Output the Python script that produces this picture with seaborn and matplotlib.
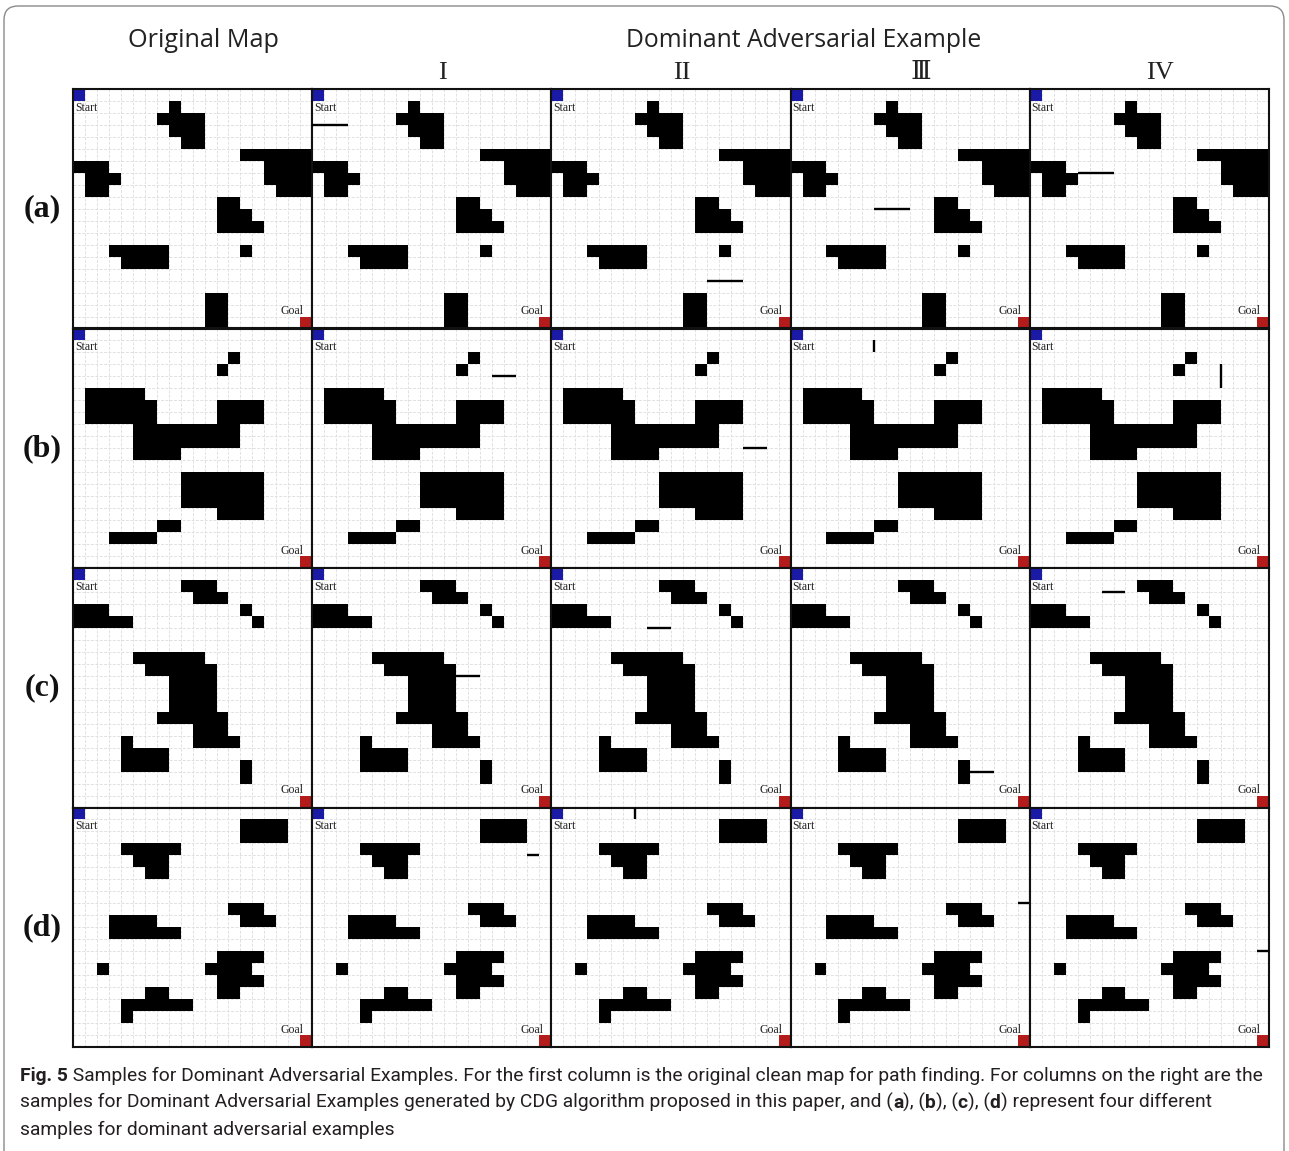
import numpy as np
import pandas as pd
import seaborn as sns
import matplotlib
matplotlib.use('Agg')
import matplotlib.pyplot as plt
from matplotlib.colors import ListedColormap
from matplotlib.patches import FancyBboxPatch
from matplotlib.transforms import IdentityTransform
from matplotlib import font_manager

sns.set_theme(style='white')
plt.rcParams['font.family'] = ['DejaVu Sans']

W, H = 1289, 1151
N = 20

# ---------------- data ----------------
main_titles = ['Original Map', 'Dominant Adversarial Example']
col_titles = ['I', 'II', 'Ⅲ', 'IV']
row_labels = ['(a)', '(b)', '(c)', '(d)']

# obstacle spans: (row, first col, last col)
map_a = [(1, 8, 8), (2, 7, 10), (3, 8, 10), (4, 9, 10), (5, 14, 19), (6, 0, 2), (6, 16, 19),
         (7, 1, 3), (7, 16, 19), (8, 1, 2), (8, 17, 19), (9, 12, 13), (10, 12, 14), (11, 12, 15),
         (13, 3, 7), (13, 14, 14), (14, 4, 7), (17, 11, 12), (18, 11, 12), (19, 11, 12)]
map_b = [(2, 13, 13), (3, 12, 12), (5, 1, 5), (6, 1, 6), (6, 12, 15), (7, 1, 6), (7, 12, 15),
         (8, 5, 13), (9, 5, 13), (10, 5, 8), (12, 9, 15), (13, 9, 15), (14, 9, 15), (15, 12, 15),
         (16, 7, 8), (17, 3, 6)]
map_c = [(1, 9, 11), (2, 10, 12), (3, 0, 2), (3, 14, 14), (4, 0, 4), (4, 15, 15), (7, 5, 10),
         (8, 6, 11), (9, 8, 11), (10, 8, 11), (11, 8, 11), (12, 7, 12), (13, 10, 12), (14, 4, 4),
         (14, 10, 13), (15, 4, 7), (16, 4, 7), (16, 14, 14), (17, 14, 14)]
map_d = [(1, 14, 17), (2, 14, 17), (3, 4, 8), (4, 5, 7), (5, 6, 7), (8, 13, 15), (9, 3, 6),
         (9, 14, 16), (10, 3, 8), (12, 12, 15), (13, 2, 2), (13, 11, 14), (14, 12, 15), (15, 6, 7),
         (15, 12, 13), (16, 4, 9), (17, 4, 4)]
maps = [map_a, map_b, map_c, map_d]

# adversarial wall segments per sample (x0, y0, x1, y1) for columns I..IV
adv_a = [(0, 3, 3, 3), (13, 16, 16, 16), (7, 10, 10, 10), (4, 7, 7, 7)]
adv_b = [(15, 4, 17, 4), (16, 10, 18, 10), (7, 1, 7, 2), (16, 3, 16, 5)]
adv_c = [(12, 9, 14, 9), (8, 5, 10, 5), (14, 17, 17, 17), (6, 2, 8, 2)]
adv_d = [(18, 4, 19, 4), (7, 0, 7, 1), (19, 8, 20, 8), (19, 12, 20, 12)]
advs = [adv_a, adv_b, adv_c, adv_d]

caption_lines = [
    [('Fig. 5', 'bold'), (' Samples for Dominant Adversarial Examples. For the first column is the original clean map for path finding. For columns on the right are the', 'normal')],
    [('samples for Dominant Adversarial Examples generated by CDG algorithm proposed in this paper, and (', 'normal'),
     ('a', 'bold'), ('), (', 'normal'), ('b', 'bold'), ('), (', 'normal'), ('c', 'bold'), ('), (', 'normal'),
     ('d', 'bold'), (') represent four different', 'normal')],
    [('samples for dominant adversarial examples', 'normal')],
]


def build_grid(spans):
    g = np.zeros((N, N))
    for r, c0, c1 in spans:
        g[r, c0:c1 + 1] = 1
    g[0, 0] = 2
    g[N - 1, N - 1] = 3
    return pd.DataFrame(g)


# ---------------- figure ----------------
fig = plt.figure(figsize=(W / 100, H / 100), dpi=100)
fig.patch.set_facecolor('white')
renderer = fig.canvas.get_renderer()

def fx(x):
    return x / W

def fy(y):
    return 1 - y / H

cmap = ListedColormap([(1, 1, 1, 0), '#000000', '#1a1aa6', '#b41c1c'])

x_left, col_w = 73, 239.2
y_top, row_h = 89, 239.5

for r in range(4):
    grid = build_grid(maps[r])
    for c in range(5):
        x0 = x_left + c * col_w
        y0 = y_top + r * row_h
        ax = fig.add_axes([fx(x0), fy(y0 + row_h), col_w / W, row_h / H])
        ax.set_facecolor('white')
        for i in range(1, N):
            ax.axvline(i, color='#e1e1e1', lw=0.7, ls=(0, (3, 1.5)), zorder=0.5)
            ax.axhline(i, color='#e1e1e1', lw=0.7, ls=(0, (3, 1.5)), zorder=0.5)
        sns.heatmap(grid, ax=ax, cmap=cmap, vmin=-0.5, vmax=3.5, cbar=False,
                    xticklabels=False, yticklabels=False)
        ax.set_xlim(0, N)
        ax.set_ylim(N, 0)
        for s in ax.spines.values():
            s.set_visible(True)
            s.set_linewidth(1.5)
            s.set_color('#111111')
        if c > 0:
            xa, ya, xb, yb = advs[r][c - 1]
            ax.plot([xa, xb], [ya, yb], color='black', lw=1.7,
                    solid_capstyle='butt', zorder=5, clip_on=False)
        ax.text(0.15, 1.55, 'Start', family=['Liberation Serif'], fontsize=8.5,
                ha='left', va='center', color='#222222', zorder=6)
        ax.text(19.3, 18.55, 'Goal', family=['Liberation Serif'], fontsize=8.5,
                ha='right', va='center', color='#222222', zorder=6)


def width_of(s, size, weight, family):
    t1 = fig.text(0, 0, '|' + s + '|', fontsize=size, fontweight=weight, family=family)
    t2 = fig.text(0, 0, '||', fontsize=size, fontweight=weight, family=family)
    w = t1.get_window_extent(renderer).width - t2.get_window_extent(renderer).width
    t1.remove(); t2.remove()
    return w


def fit_text(xc, y, s, width_px, family, weight='normal', va='baseline', color='#222222'):
    w = width_of(s, 10, weight, family)
    size = 10 * width_px / w
    fig.text(fx(xc), fy(y), s, fontsize=size, family=family, fontweight=weight,
             ha='center', va=va, color=color)

# headers
fit_text(203, 47, main_titles[0], 152, ['Open Sans'])
fit_text(804, 47, main_titles[1], 356, ['Open Sans'])
roman_x = [442, 682, 921, 1160]
for xc, s in zip(roman_x, col_titles):
    fig.text(fx(xc), fy(79), s, fontsize=19,
             family=['Liberation Serif', 'DejaVu Serif', 'DejaVu Sans', 'Noto Sans CJK SC'],
             ha='center', va='baseline', color='#222222')

# row labels
for r, lab in enumerate(row_labels):
    yc = y_top + (r + 0.5) * row_h
    fig.text(fx(42), fy(yc), lab, fontsize=23, family=['Liberation Serif'],
             fontweight='bold', ha='center', va='center', color='#111111')

# caption
names = {f.name for f in font_manager.fontManager.ttflist}
cap_family = ['Liberation Sans Narrow'] if 'Liberation Sans Narrow' in names else ['Roboto']
base = sum(width_of(s, 10, wt, cap_family) for s, wt in caption_lines[0])
cap_size = 10 * 1242 / base
baselines = [1081, 1108, 1135]
for line, yb in zip(caption_lines, baselines):
    x = 20
    for s, wt in line:
        fig.text(fx(x), fy(yb), s, fontsize=cap_size, fontweight=wt, family=cap_family,
                 ha='left', va='baseline', color='#231f20')
        x += width_of(s, cap_size, wt, cap_family)

# outer rounded frame
frame = FancyBboxPatch((4, -30), 1280, H - 6 + 30,
                       boxstyle='round,pad=0,rounding_size=14',
                       transform=IdentityTransform(), fc='none', ec='#8a8a8a', lw=1.0)
fig.patches.append(frame)

fig.savefig('out.png', dpi=100, facecolor='white')
